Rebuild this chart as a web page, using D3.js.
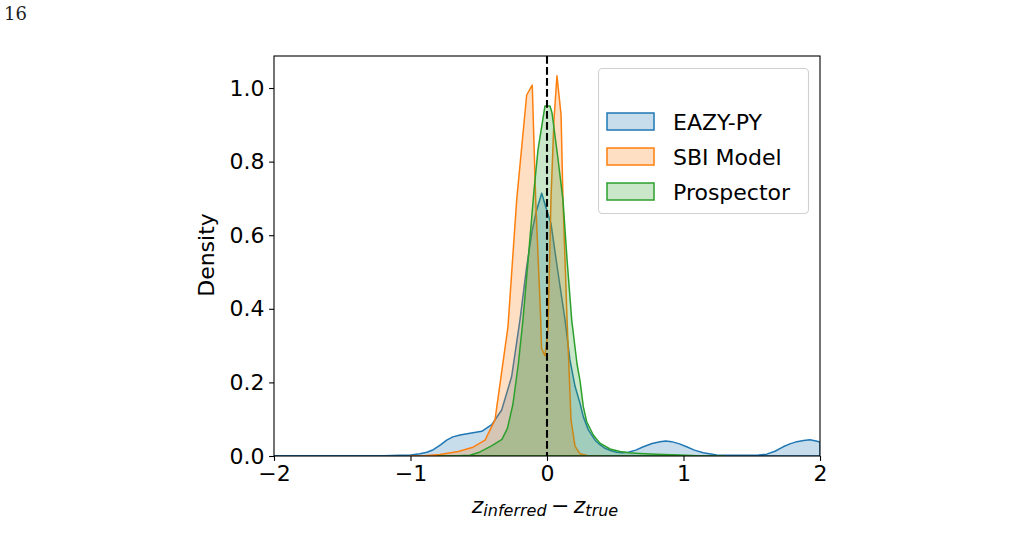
<!DOCTYPE html>
<html><head><meta charset="utf-8">
<script src="https://cdn.jsdelivr.net/npm/d3@7"></script>
<style>body{margin:0;background:#fff}</style>
</head><body><svg id="c" width="1019" height="541"></svg>
<script>
// ---- data ----
const seriesNames = ["EAZY-PY", "SBI Model", "Prospector"];
const seriesColors = ["#1f77b4", "#ff7f0e", "#2ca02c"];

const eazyX = [-2.0,-1.5,-1.2,-1.077,-1.0,-0.93,-0.88,-0.833,-0.78,-0.735,-0.69,-0.637,-0.564,-0.478,-0.405,-0.332,-0.259,-0.198,-0.149,-0.108,-0.076,-0.039,0.002,0.029,0.08,0.132,0.168,0.205,0.242,0.266,0.303,0.352,0.39,0.425,0.47,0.51,0.55,0.596,0.65,0.706,0.77,0.828,0.87,0.914,0.97,1.023,1.08,1.145,1.243,1.35,1.46,1.55,1.61,1.67,1.73,1.78,1.83,1.88,1.927,1.97,2.0];
const eazyY = [0.001,0.001,0.001,0.002,0.003,0.006,0.010,0.017,0.030,0.043,0.052,0.057,0.062,0.067,0.085,0.125,0.216,0.370,0.514,0.614,0.668,0.714,0.664,0.632,0.50,0.370,0.261,0.190,0.143,0.107,0.071,0.043,0.030,0.021,0.014,0.010,0.009,0.010,0.016,0.025,0.034,0.039,0.041,0.039,0.033,0.025,0.016,0.009,0.003,0.002,0.002,0.003,0.005,0.013,0.025,0.033,0.039,0.042,0.044,0.041,0.038];

const sbiX = [-1.0,-0.9,-0.784,-0.65,-0.542,-0.454,-0.381,-0.286,-0.222,-0.149,-0.108,-0.083,-0.046,-0.040,-0.015,0.007,0.029,0.051,0.073,0.103,0.117,0.147,0.176,0.205,0.242,0.30,0.40];
const sbiY = [0.0,0.001,0.004,0.012,0.024,0.043,0.098,0.351,0.696,0.981,1.008,0.696,0.370,0.293,0.272,0.342,0.696,0.913,1.033,0.927,0.696,0.370,0.098,0.027,0.006,0.001,0.0];

const prospX = [-0.8,-0.65,-0.564,-0.491,-0.403,-0.33,-0.29,-0.25,-0.21,-0.176,-0.132,-0.095,-0.066,-0.037,-0.015,0.022,0.037,0.077,0.117,0.147,0.181,0.220,0.242,0.266,0.291,0.339,0.388,0.462,0.535,0.60,0.681,0.80,0.974,1.1,1.3];
const prospY = [0.0,0.001,0.002,0.011,0.028,0.045,0.075,0.14,0.25,0.370,0.560,0.723,0.832,0.900,0.951,0.951,0.932,0.818,0.696,0.533,0.370,0.250,0.204,0.134,0.093,0.057,0.035,0.019,0.012,0.009,0.007,0.005,0.003,0.001,0.0];

const xTicks = [-2, -1, 0, 1, 2];
const yTicks = [0.0, 0.2, 0.4, 0.6, 0.8, 1.0];
const xDomain = [-2, 2];
const yDomain = [0, 1.087];

// ---- layout ----
const L = 274, R = 820, T = 56, B = 456;
const svg = d3.select("#c");
const x = d3.scaleLinear().domain(xDomain).range([L, R]);
const y = d3.scaleLinear().domain(yDomain).range([B, T]);
const FONT = "'DejaVu Sans', sans-serif";

svg.append("text").attr("x", 4).attr("y", 20)
  .style("font-family", "'DejaVu Serif', 'Liberation Serif', serif").style("font-size", "18px")
  .attr("fill", "#222").text("16");

svg.append("clipPath").attr("id", "clip").append("rect")
  .attr("x", L).attr("y", T).attr("width", R - L).attr("height", B - T);

const series = [
  d3.zip(eazyX, eazyY),
  d3.zip(sbiX, sbiY),
  d3.zip(prospX, prospY)
];

const area = d3.area().curve(d3.curveLinear)
  .x(d => x(d[0])).y0(y(0)).y1(d => y(d[1]));

const g = svg.append("g").attr("clip-path", "url(#clip)");
series.forEach((s, i) => {
  g.append("path").datum(s).attr("d", area)
    .attr("fill", seriesColors[i]).attr("fill-opacity", 0.25)
    .attr("stroke", seriesColors[i]).attr("stroke-width", 1.5)
    .attr("stroke-linejoin", "round");
});

// vertical dashed line at 0
svg.append("line").attr("x1", x(0)).attr("x2", x(0)).attr("y1", T).attr("y2", B)
  .attr("stroke", "#000").attr("stroke-width", 2.1).attr("stroke-dasharray", "7.7,3.3");

// axes
const xAxis = d3.axisBottom(x).tickValues(xTicks).tickSizeOuter(0).tickSize(4.9).tickPadding(4.5)
  .tickFormat(d => d < 0 ? "\u2212" + Math.abs(d) : String(d));
const gx = svg.append("g").attr("transform", `translate(0,${B})`).call(xAxis);
const yAxis = d3.axisLeft(y).tickValues(yTicks).tickSizeOuter(0).tickSize(4.9).tickPadding(4.5)
  .tickFormat(d3.format(".1f"));
const gy = svg.append("g").attr("transform", `translate(${L},0)`).call(yAxis);
[gx, gy].forEach(a => {
  a.select(".domain").remove();
  a.selectAll(".tick line").attr("stroke", "#000").attr("stroke-width", 1.1);
  a.selectAll(".tick text").attr("fill", "#000").style("font-family", FONT).style("font-size", "22px");
});
gx.selectAll(".tick text").attr("dy", "0.72em");

// frame
svg.append("rect").attr("x", L).attr("y", T).attr("width", R - L).attr("height", B - T)
  .attr("fill", "none").attr("stroke", "#000").attr("stroke-width", 1.1);

// axis labels
svg.append("text").attr("transform", `translate(214,255) rotate(-90)`)
  .attr("text-anchor", "middle").style("font-family", FONT).style("font-size", "22px")
  .text("Density");

const xl = svg.append("text").attr("x", 545).attr("y", 513).attr("text-anchor", "middle")
  .style("font-family", FONT).style("font-size", "22px");
xl.append("tspan").style("font-style", "italic").text("z");
xl.append("tspan").style("font-style", "italic").style("font-size", "16px").attr("dy", 3).text("inferred");
xl.append("tspan").attr("dy", -3).text("\u2009\u2212\u2009");
xl.append("tspan").style("font-style", "italic").text("z");
xl.append("tspan").style("font-style", "italic").style("font-size", "16px").attr("dy", 3).text("true");

// legend
const lg = svg.append("g");
lg.append("rect").attr("x", 598.5).attr("y", 68.5).attr("width", 210).attr("height", 145)
  .attr("rx", 4).attr("fill", "#fff").attr("fill-opacity", 0.8)
  .attr("stroke", "#d0d0d0").attr("stroke-width", 1.1);
seriesNames.forEach((name, i) => {
  const yy = 113 + i * 35;
  lg.append("rect").attr("x", 607).attr("y", yy).attr("width", 47).attr("height", 17)
    .attr("fill", seriesColors[i]).attr("fill-opacity", 0.25)
    .attr("stroke", seriesColors[i]).attr("stroke-width", 1.5);
  lg.append("text").attr("x", 673).attr("y", yy + 17)
    .style("font-family", FONT).style("font-size", "22px").text(name);
});
</script></body></html>
